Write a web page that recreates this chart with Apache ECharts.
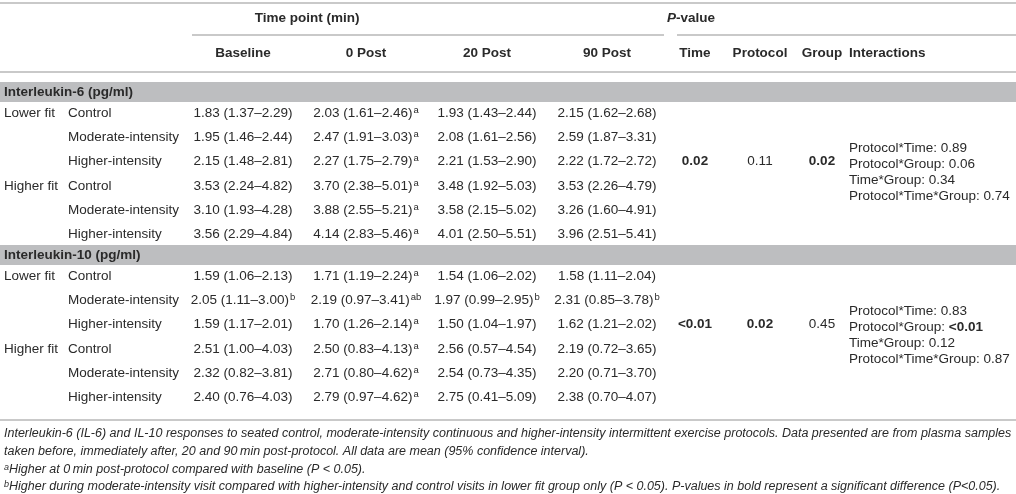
<!DOCTYPE html>
<html>
<head>
<meta charset="utf-8">
<script src="https://cdn.jsdelivr.net/npm/echarts@6/dist/echarts.min.js"></script>
<style>
  html, body { margin: 0; padding: 0; background: #fff; }
  #main { width: 1016px; height: 494px; }
</style>
</head>
<body>
<div id="main"></div>
<script>
// table content
var timePoints = ['Baseline', '0 Post', '20 Post', '90 Post'];
var pHeads = ['Time', 'Protocol', 'Group'];
var groups = ['Lower fit', 'Higher fit'];
var protocols = ['Control', 'Moderate-intensity', 'Higher-intensity'];
var markers = ['Interleukin-6 (pg/ml)', 'Interleukin-10 (pg/ml)'];

// IL-6 mean, lower and upper 95% CI, superscripts (rows: LF ctrl, LF mod, LF high, HF ctrl, HF mod, HF high)
var il6Mean = [[1.83, 2.03, 1.93, 2.15], [1.95, 2.47, 2.08, 2.59], [2.15, 2.27, 2.21, 2.22],
               [3.53, 3.70, 3.48, 3.53], [3.10, 3.88, 3.58, 3.26], [3.56, 4.14, 4.01, 3.96]];
var il6Lo = [[1.37, 1.61, 1.43, 1.62], [1.46, 1.91, 1.61, 1.87], [1.48, 1.75, 1.53, 1.72],
             [2.24, 2.38, 1.92, 2.26], [1.93, 2.55, 2.15, 1.60], [2.29, 2.83, 2.50, 2.51]];
var il6Hi = [[2.29, 2.46, 2.44, 2.68], [2.44, 3.03, 2.56, 3.31], [2.81, 2.79, 2.90, 2.72],
             [4.82, 5.01, 5.03, 4.79], [4.28, 5.21, 5.02, 4.91], [4.84, 5.46, 5.51, 5.41]];
var il6Sup = [['', 'a', '', ''], ['', 'a', '', ''], ['', 'a', '', ''],
              ['', 'a', '', ''], ['', 'a', '', ''], ['', 'a', '', '']];
var il6P = ['0.02', '0.11', '0.02'];
var il6PBold = [true, false, true];
var il6Inter = ['0.89', '0.06', '0.34', '0.74'];
var il6InterBold = [false, false, false, false];

// IL-10
var il10Mean = [[1.59, 1.71, 1.54, 1.58], [2.05, 2.19, 1.97, 2.31], [1.59, 1.70, 1.50, 1.62],
                [2.51, 2.50, 2.56, 2.19], [2.32, 2.71, 2.54, 2.20], [2.40, 2.79, 2.75, 2.38]];
var il10Lo = [[1.06, 1.19, 1.06, 1.11], [1.11, 0.97, 0.99, 0.85], [1.17, 1.26, 1.04, 1.21],
              [1.00, 0.83, 0.57, 0.72], [0.82, 0.80, 0.73, 0.71], [0.76, 0.97, 0.41, 0.70]];
var il10Hi = [[2.13, 2.24, 2.02, 2.04], [3.00, 3.41, 2.95, 3.78], [2.01, 2.14, 1.97, 2.02],
              [4.03, 4.13, 4.54, 3.65], [3.81, 4.62, 4.35, 3.70], [4.03, 4.62, 5.09, 4.07]];
var il10Sup = [['', 'a', '', ''], ['b', 'ab', 'b', 'b'], ['', 'a', '', ''],
               ['', 'a', '', ''], ['', 'a', '', ''], ['', 'a', '', '']];
var il10P = ['<0.01', '0.02', '0.45'];
var il10PBold = [true, true, false];
var il10Inter = ['0.83', '<0.01', '0.12', '0.87'];
var il10InterBold = [false, true, false, false];

var interNames = ['Protocol*Time', 'Protocol*Group', 'Time*Group', 'Protocol*Time*Group'];

var notes = [
  'Interleukin-6 (IL-6) and IL-10 responses to seated control, moderate-intensity continuous and higher-intensity intermittent exercise protocols. Data presented are from plasma samples',
  'taken before, immediately after, 20 and 90\u2009min post-protocol. All data are mean (95% confidence interval).',
  '{s|a}Higher at 0\u2009min post-protocol compared with baseline (P < 0.05).',
  '{s|b}Higher during moderate-intensity visit compared with higher-intensity and control visits in lower fit group only (P < 0.05). P-values in bold represent a significant difference (P<0.05).'
];

var blocks = [
  { mean: il6Mean, lo: il6Lo, hi: il6Hi, sup: il6Sup, p: il6P, pBold: il6PBold, inter: il6Inter, interBold: il6InterBold },
  { mean: il10Mean, lo: il10Lo, hi: il10Hi, sup: il10Sup, p: il10P, pBold: il10PBold, inter: il10Inter, interBold: il10InterBold }
];

// layout
var FONT = '"Liberation Sans", Arial, Helvetica, sans-serif';
var TXT = '#2a2a2a';
var RULE = '#c9c9c9';
var BAND = '#bdbec0';
var W = 1016;
var colGroup = 4, colProto = 68, colInter = 849;
var colTime = [243, 366, 487, 607];
var colP = [695, 760, 822];
var bandTop = [82, 245];
var rowStep = 24.3;

var chart = echarts.init(document.getElementById('main'), null, { renderer: 'canvas' });

var els = [];

function rule(x1, x2, y) {
  els.push({ type: 'line', shape: { x1: x1, y1: y, x2: x2, y2: y }, style: { stroke: RULE, lineWidth: 2 }, silent: true });
}

function txt(x, y, text, opt) {
  opt = opt || {};
  els.push({
    type: 'text', x: x, y: y, silent: true,
    style: {
      text: text,
      fill: opt.fill || TXT,
      fontFamily: FONT,
      fontSize: opt.size || 13.5,
      fontWeight: opt.bold ? 'bold' : 'normal',
      fontStyle: opt.italic ? 'italic' : 'normal',
      textAlign: opt.align || 'left',
      textVerticalAlign: 'middle',
      rich: opt.rich
    }
  });
}

var supRich = {
  n: { fontFamily: FONT, fontSize: 13.5, fill: TXT, lineHeight: 16, verticalAlign: 'middle' },
  s: { fontFamily: FONT, fontSize: 9.5, fill: TXT, lineHeight: 16, verticalAlign: 'top', padding: [0, 0, 0, 1] },
  b: { fontFamily: FONT, fontSize: 13.5, fill: TXT, fontWeight: 'bold', lineHeight: 16, verticalAlign: 'middle' }
};

// header
rule(0, W, 3);
txt(307, 18, 'Time point (min)', { bold: true });
els[els.length - 1].style.textAlign = 'center';
txt(667, 18, '{i|P}{b|-value}', {
  rich: {
    i: { fontFamily: FONT, fontSize: 13.5, fill: TXT, fontWeight: 'bold', fontStyle: 'italic' },
    b: { fontFamily: FONT, fontSize: 13.5, fill: TXT, fontWeight: 'bold' }
  }
});
rule(192, 664, 35);
rule(677, W, 35);
timePoints.forEach(function (t, i) { txt(colTime[i], 53, t, { bold: true, align: 'center' }); });
pHeads.forEach(function (t, i) { txt(colP[i], 53, t, { bold: true, align: 'center' }); });
txt(colInter, 53, 'Interactions', { bold: true });
rule(0, W, 72);

// body
blocks.forEach(function (bk, b) {
  var top = bandTop[b];
  els.push({ type: 'rect', shape: { x: 0, y: top, width: W, height: 20 }, style: { fill: BAND }, silent: true });
  txt(colGroup, top + 10, markers[b], { bold: true });
  var rowY = [];
  for (var r = 0; r < 6; r++) {
    var y = top + 31 + r * rowStep;
    rowY.push(y);
    if (r % 3 === 0) txt(colGroup, y, groups[r / 3]);
    txt(colProto, y, protocols[r % 3]);
    for (var c = 0; c < timePoints.length; c++) {
      var s = '{n|' + bk.mean[r][c].toFixed(2) + ' (' + bk.lo[r][c].toFixed(2) + '\u2013' + bk.hi[r][c].toFixed(2) + ')}';
      if (bk.sup[r][c]) s += '{s|' + bk.sup[r][c] + '}';
      txt(colTime[c], y, s, { align: 'center', rich: supRich });
    }
  }
  bk.p.forEach(function (v, i) {
    txt(colP[i], rowY[2], v, { bold: bk.pBold[i], align: 'center' });
  });
  bk.inter.forEach(function (v, k) {
    var s = '{n|' + interNames[k] + ': }' + (bk.interBold[k] ? '{b|' + v + '}' : '{n|' + v + '}');
    txt(colInter, rowY[2] + (k - 1) * 16 + 2.5, s, { rich: supRich });
  });
});

rule(0, W, 420);

// footnotes
var noteRich = {
  s: { fontFamily: FONT, fontSize: 9, fontStyle: 'italic', fill: TXT, verticalAlign: 'top', lineHeight: 15 }
};
notes.forEach(function (t, i) {
  els.push({
    type: 'text', x: 4, y: [434, 452, 470, 487][i], silent: true,
    style: {
      text: t, fill: TXT, fontFamily: FONT, fontSize: 12.5, fontStyle: 'italic',
      textVerticalAlign: 'middle', rich: noteRich
    }
  });
});

chart.setOption({
  animation: false,
  backgroundColor: '#ffffff',
  graphic: { elements: els }
});
</script>
</body>
</html>
